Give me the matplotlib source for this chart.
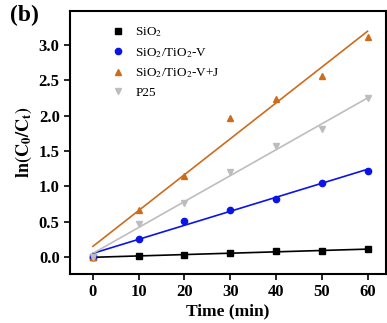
import matplotlib
matplotlib.use("Agg")
import matplotlib.pyplot as plt
import numpy as np

plt.rcParams["font.family"] = ["Liberation Serif", "DejaVu Serif"]
plt.rcParams["mathtext.fontset"] = "stix"

time_min = [0, 10, 20, 30, 40, 50, 60]
sio2 = [0.0, 0.01, 0.03, 0.05, 0.08, 0.09, 0.11]
sio2_tio2_v = [0.0, 0.26, 0.51, 0.66, 0.82, 1.05, 1.22]
sio2_tio2_vj = [0.0, 0.67, 1.15, 1.97, 2.24, 2.56, 3.11]
p25 = [0.0, 0.46, 0.76, 1.20, 1.57, 1.81, 2.25]

labels = ["SiO$_2$", "SiO$_2$/TiO$_2$-V", "SiO$_2$/TiO$_2$-V+J", "P25"]
colors = ["#000000", "#0a14e6", "#cc6c1c", "#bdbdbd"]
markers = ["s", "o", "^", "v"]
series = [sio2, sio2_tio2_v, sio2_tio2_vj, p25]

fig = plt.figure(figsize=(3.87, 3.23), dpi=100)
ax = fig.add_axes([0.181, 0.152, 0.816, 0.814])

t = np.array(time_min, dtype=float)
for y, c, m, lab in zip(series, colors, markers, labels):
    k, b = np.polyfit(t, y, 1)
    ax.plot([t[0], t[-1]], [k * t[0] + b, k * t[-1] + b], color=c, lw=1.2, zorder=2)
    ax.plot(t, y, ls="none", marker=m, color=c, ms=4.5, label=lab, zorder=3)

ax.set_xlim(-5, 64)
ax.set_ylim(-0.24, 3.48)
ax.set_xticks(time_min)
ax.set_yticks([0.0, 0.5, 1.0, 1.5, 2.0, 2.5, 3.0])
ax.set_yticklabels(["0.0", "0.5", "1.0", "1.5", "2.0", "2.5", "3.0"])
ax.tick_params(direction="out", length=4, width=1.2, labelsize=12, top=False, right=False)
for lab in ax.get_xticklabels() + ax.get_yticklabels():
    lab.set_fontweight("bold")
for sp in ax.spines.values():
    sp.set_linewidth(1.5)

ax.set_xlabel("Time (min)", fontsize=12.5, fontweight="bold", labelpad=2)
ax.set_ylabel(r"$\mathbf{ln(C_0/C_t)}$", fontsize=13, labelpad=3)

ax.legend(loc="upper left", bbox_to_anchor=(0.09, 0.99), frameon=False, fontsize=9.5,
          handletextpad=0.7, labelspacing=0.5, handlelength=1.2)

fig.text(0.025, 0.985, "(b)", fontsize=17, fontweight="bold", va="top", ha="left")

fig.savefig("out.png", dpi=100)
